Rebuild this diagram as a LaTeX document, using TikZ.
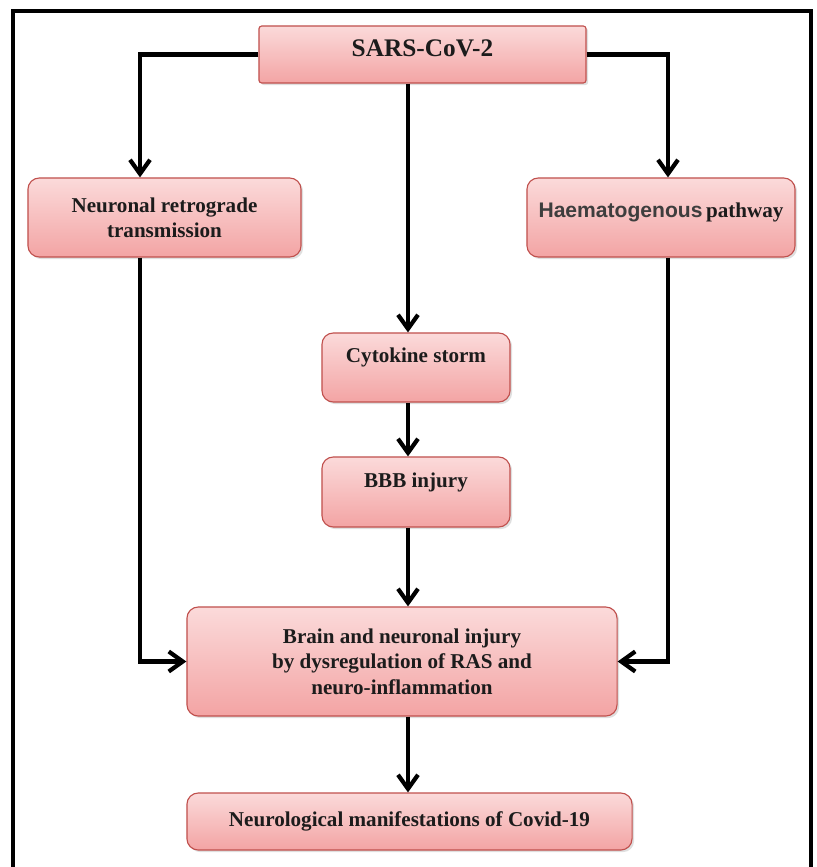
\documentclass[tikz,border=0pt]{standalone}
\usepackage{fontspec}
\setmainfont{Liberation Serif}
\newfontfamily\hsans{Liberation Sans}
\usetikzlibrary{arrows.meta,shadows}
\definecolor{boxline}{RGB}{192,80,77}
\definecolor{boxtop}{RGB}{251,218,218}
\definecolor{boxbottom}{RGB}{243,164,164}
\definecolor{inktext}{RGB}{28,28,28}
\tikzset{
  flowbox/.style={draw=boxline, line width=0.8pt, rounded corners=8pt,
    top color=boxtop, bottom color=boxbottom, text=inktext,
    font=\fontsize{15}{18}\selectfont\bfseries, align=center,
    drop shadow={shadow xshift=1.5pt, shadow yshift=-1.5pt, opacity=0.25}},
  flowarrow/.style={line width=3pt, -{Straight Barb[length=3.5mm,width=5mm]}}
}
\begin{document}
\begin{tikzpicture}[x=0.025cm, y=-0.025cm]
                    \useasboundingbox (0,0) rectangle (816,867);
                    \begin{scope}
                    \clip (0,0) rectangle (816,867);
                    \draw[line width=2.2pt] (13,900) -- (13,11) -- (811,11) -- (811,900);
                    \end{scope}
                    \coordinate (lft) at (140,0);
                    \coordinate (mid) at (408,0);
                    \coordinate (rgt) at (668,0);

                    \node[flowbox, rounded corners=2pt, minimum width=8.175cm, minimum height=1.425cm, text depth=0.3cm,
                          font=\fontsize{18}{22}\selectfont\bfseries] (sars) at (422.5,54.5) {SARS-CoV-2};
                    \node[flowbox, minimum width=6.825cm, minimum height=1.975cm] (neuronal) at (164.5,217.5) {Neuronal retrograde\\transmission};
                    \node[flowbox, minimum width=6.7cm, minimum height=1.975cm, text depth=0.35cm] (haemato) at (661,217.5)
                          {{\hsans\color{inktext!85}Haematogenous}\,pathway};
                    \node[flowbox, minimum width=4.7cm, minimum height=1.725cm, text depth=0.6cm] (cytokine) at (416,367.5) {Cytokine storm};
                    \node[flowbox, minimum width=4.7cm, minimum height=1.75cm, text depth=0.6cm] (bbb) at (416,492) {BBB injury};
                    \node[flowbox, minimum width=10.75cm, minimum height=2.725cm] (brain) at (402,661.5)
                          {Brain and neuronal injury\\by dysregulation of RAS and\\neuro-inflammation};
                    \node[flowbox, minimum width=11.125cm, minimum height=1.425cm] (covid) at (409.5,821.5) {Neurological manifestations of Covid-19};

                    \draw[flowarrow] (sars.south -| mid) -- (cytokine.north -| mid);
                    \draw[flowarrow] (sars.west) -| (neuronal.north -| lft);
                    \draw[flowarrow] (sars.east) -| (haemato.north -| rgt);
                    \draw[flowarrow] (cytokine.south -| mid) -- (bbb.north -| mid);
                    \draw[flowarrow] (bbb.south -| mid) -- (brain.north -| mid);
                    \draw[flowarrow] (neuronal.south -| lft) |- (brain.west);
                    \draw[flowarrow] (haemato.south -| rgt) |- (brain.east);
                    \draw[flowarrow] (brain.south -| mid) -- (covid.north -| mid);
\end{tikzpicture}
\end{document}
